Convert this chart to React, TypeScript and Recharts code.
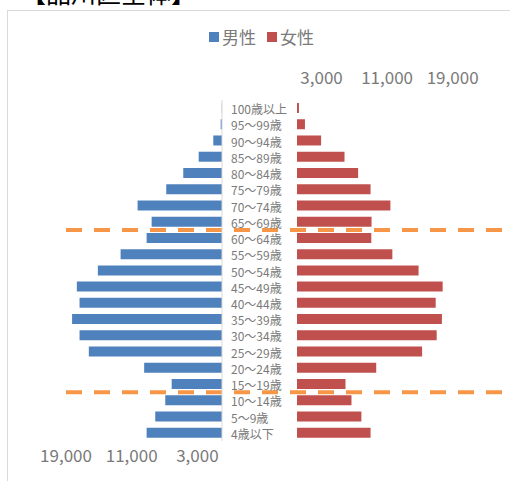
import { BarChart, Bar, XAxis, YAxis, ReferenceLine } from "recharts";

const AGES = [
  "100歳以上", "95～99歳", "90～94歳", "85～89歳", "80～84歳", "75～79歳",
  "70～74歳", "65～69歳", "60～64歳", "55～59歳", "50～54歳", "45～49歳",
  "40～44歳", "35～39歳", "30～34歳", "25～29歳", "20～24歳", "15～19歳",
  "10～14歳", "5～9歳", "4歳以下",
];
const MALE = [
  30, 160, 1060, 2840, 4720, 6790, 10280, 8570, 9180, 12350, 15120, 17680,
  17350, 18260, 17350, 16220, 9480, 6130, 6910, 8130, 9180,
];
const FEMALE = [
  240, 970, 2940, 5800, 7460, 8980, 11400, 9100, 9070, 11640, 14840, 17780,
  16930, 17690, 17050, 15270, 9670, 5920, 6650, 7860, 8980,
];
const MALE_TICKS = [3000, 11000, 19000];
const FEMALE_TICKS = [3000, 11000, 19000];
const DIVIDERS = ["60～64歳", "10～14歳"];

const data = AGES.map((age, i) => ({ age, male: MALE[i], female: FEMALE[i] }));

const FONT = '"Noto Sans CJK JP", "Noto Sans", sans-serif';
const GREY = "#7a7a7a";
const BLUE = "#4F81BD";
const RED = "#C0504D";
const ORANGE = "#F79646";

const fmt = (v: number) => v.toLocaleString("en-US");

// label column width in the female chart, in data units (75px at 213px / 26000)
const LABEL_GAP = (75 * 26000) / 213;

function AgeTick(props: any) {
  const { x, y, payload } = props;
  return (
    <text x={x - 64} y={y} dy={6} fill={GREY} fontSize={12} fontFamily={FONT} textAnchor="start">
      {payload.value}
    </text>
  );
}

export default function App() {
  return (
    <div
      style={{
        position: "absolute",
        left: 0,
        top: 0,
        width: 510,
        height: 481,
        overflow: "hidden",
        background: "#fff",
        fontFamily: FONT,
      }}
    >
      {/* title, cut off at the top like the source screenshot */}
      <div
        style={{
          position: "absolute",
          left: 21,
          top: -20,
          fontSize: 25,
          lineHeight: "25px",
          color: "#000",
          whiteSpace: "nowrap",
        }}
      >
        【品川区全体】
      </div>
      <div
        style={{
          position: "absolute",
          left: 7,
          top: 10,
          width: 600,
          height: 600,
          border: "1px solid #d9d9d9",
        }}
      />
      {/* legend */}
      <div
        style={{
          position: "absolute",
          left: 209,
          top: 27,
          display: "flex",
          alignItems: "center",
          fontSize: 17,
          lineHeight: "20px",
          color: GREY,
        }}
      >
        <span style={{ width: 10, height: 10, background: BLUE, marginRight: 3 }} />
        <span style={{ marginRight: 11 }}>男性</span>
        <span style={{ width: 10, height: 10, background: RED, marginRight: 3 }} />
        <span>女性</span>
      </div>

      {/* male side */}
      <div style={{ position: "absolute", left: 0, top: 0 }}>
        <BarChart
          layout="vertical"
          width={224}
          height={481}
          data={data}
          margin={{ top: 100, right: 1, bottom: 0, left: 66 }}
        >
          <XAxis
            type="number"
            domain={[0, 19000]}
            ticks={MALE_TICKS}
            reversed
            orientation="bottom"
            height={40}
            axisLine={false}
            tickLine={false}
            tickSize={0}
            tickMargin={9}
            interval={0}
            tick={{ fill: GREY, fontSize: 17, fontFamily: FONT }}
            tickFormatter={fmt}
          />
          <YAxis
            type="category"
            dataKey="age"
            orientation="right"
            width={1}
            tick={false}
            tickLine={false}
            axisLine={{ stroke: "#d9d9d9" }}
          />
          <Bar dataKey="male" fill={BLUE} barSize={10} isAnimationActive={false} />
          {DIVIDERS.map((d) => (
            <ReferenceLine
              key={d}
              y={d}
              position="start"
              stroke={ORANGE}
              strokeWidth={4}
              strokeDasharray="16 12"
              ifOverflow="visible"
            />
          ))}
        </BarChart>
      </div>

      {/* female side with age labels */}
      <div style={{ position: "absolute", left: 222, top: 0 }}>
        <BarChart
          layout="vertical"
          width={288}
          height={481}
          data={data}
          margin={{ top: 0, right: 0, bottom: 40, left: 0 }}
        >
          <XAxis
            type="number"
            domain={[0, 26000]}
            ticks={FEMALE_TICKS}
            orientation="top"
            height={100}
            axisLine={false}
            tickLine={false}
            tickSize={0}
            tickMargin={16}
            interval={0}
            tick={{ fill: GREY, fontSize: 17, fontFamily: FONT }}
            tickFormatter={fmt}
          />
          <YAxis
            type="category"
            dataKey="age"
            width={75}
            axisLine={false}
            tickLine={false}
            tickSize={0}
            interval={0}
            tick={<AgeTick />}
          />
          <Bar dataKey="female" fill={RED} barSize={10} isAnimationActive={false} />
          {DIVIDERS.map((d) => (
            <ReferenceLine
              key={d}
              segment={[
                { x: -LABEL_GAP, y: d },
                { x: 26000, y: d },
              ]}
              position="start"
              stroke={ORANGE}
              strokeWidth={4}
              strokeDasharray="16 12"
              strokeDashoffset={16}
              ifOverflow="visible"
            />
          ))}
        </BarChart>
      </div>
    </div>
  );
}
